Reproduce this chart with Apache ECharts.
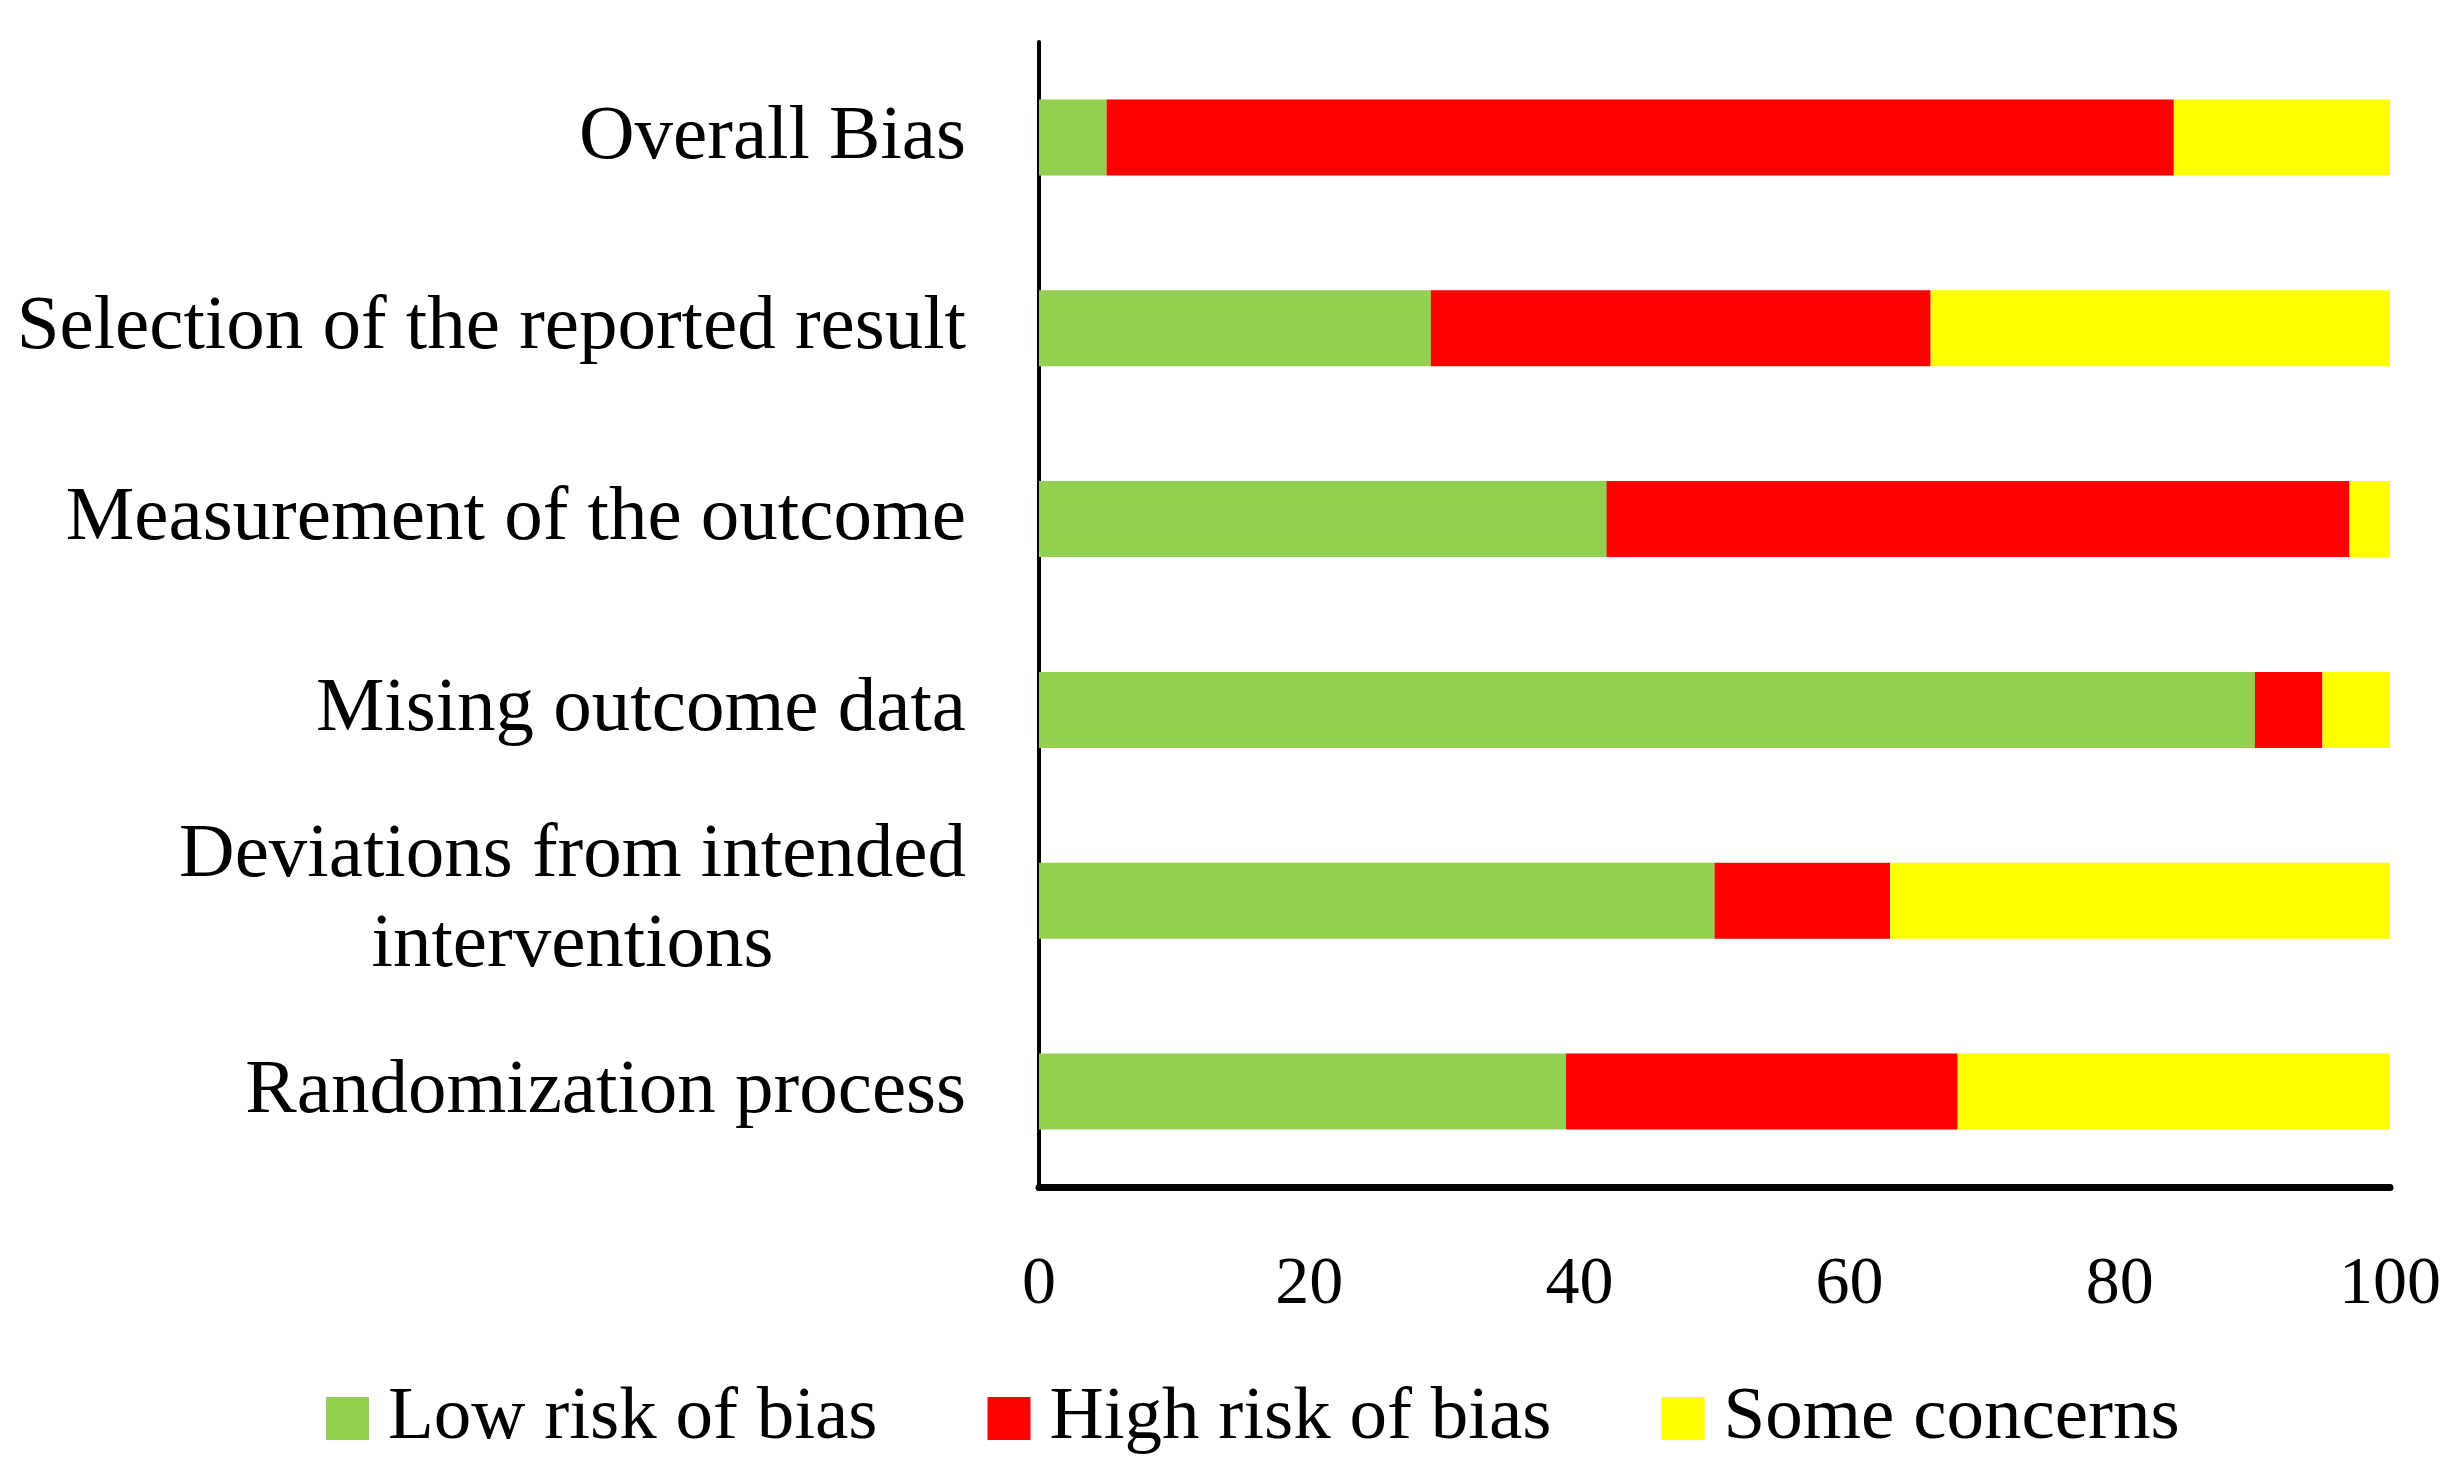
<!DOCTYPE html>
<html>
<head>
<meta charset="utf-8">
<script src="https://cdn.jsdelivr.net/npm/echarts@6/dist/echarts.min.js"></script>
<style>
html,body{margin:0;padding:0;background:#fff;}
#chart{width:2464px;height:1480px;}
</style>
</head>
<body>
<div id="chart"></div>
<script>
const categories = ['Randomization process', 'Deviations from intended\ninterventions', 'Mising outcome data', 'Measurement of the outcome', 'Selection of the reported result', 'Overall Bias'];
const lowRisk = [39, 50, 90, 42, 29, 5];
const highRisk = [29, 13, 5, 55, 37, 79];
const someConcerns = [32, 37, 5, 3, 34, 16];
const xTicks = [0, 20, 40, 60, 80, 100];

const FONT = 'Liberation Serif';
const chart = echarts.init(document.getElementById('chart'));
chart.setOption({
  backgroundColor: '#ffffff',
  animation: false,
  grid: {left: 1039, right: 74, top: 42, bottom: 293, containLabel: false},
  legend: {
    left: 321, top: 1376,
    itemWidth: 43, itemHeight: 43, itemGap: 110,
    icon: 'rect',
    textStyle: {fontFamily: FONT, fontSize: 75, color: '#000', padding: [0, 0, 0, 14]},
    data: ['Low risk of bias', 'High risk of bias', 'Some concerns']
  },
  xAxis: {
    type: 'value', min: 0, max: 100, interval: 20,
    axisLine: {show: true, onZero: false, lineStyle: {color: '#000', width: 7}},
    axisTick: {show: false},
    splitLine: {show: false},
    axisLabel: {
      fontFamily: FONT, fontSize: 68, color: '#000', margin: 64,
      formatter: v => xTicks.includes(v) ? String(v) : ''
    }
  },
  yAxis: {
    type: 'category', data: categories,
    axisLine: {show: true, lineStyle: {color: '#000', width: 4}},
    axisTick: {show: false},
    axisLabel: {
      margin: 73,
      formatter: v => v.split('\n').map(s => '{c|' + s + '}').join('\n'),
      rich: {c: {fontFamily: FONT, fontSize: 77, color: '#000', align: 'center', lineHeight: 90}}
    }
  },
  series: [
    {name: 'Low risk of bias', type: 'bar', stack: 'a', data: lowRisk, barWidth: 76, itemStyle: {color: '#92D050'}},
    {name: 'High risk of bias', type: 'bar', stack: 'a', data: highRisk, barWidth: 76, itemStyle: {color: '#FF0000'}},
    {name: 'Some concerns', type: 'bar', stack: 'a', data: someConcerns, barWidth: 76, itemStyle: {color: '#FFFF00'}}
  ]
});
</script>
</body>
</html>
